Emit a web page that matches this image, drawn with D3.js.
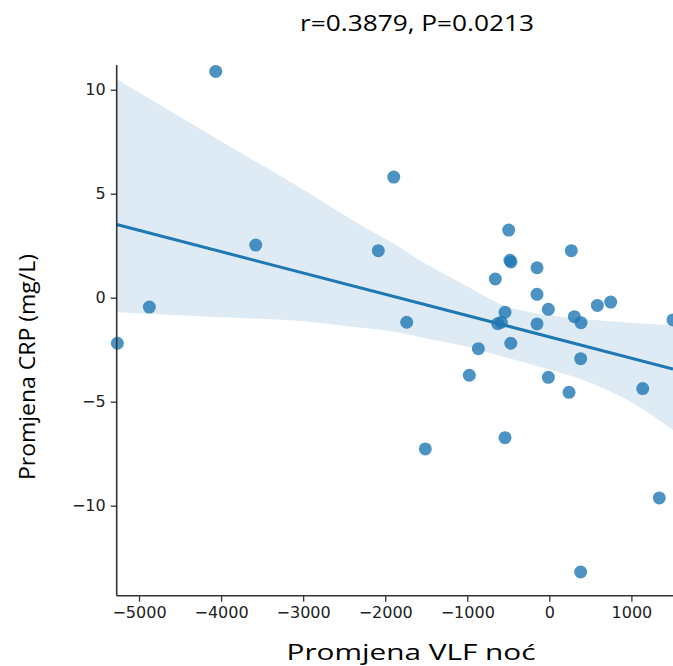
<!DOCTYPE html>
<html>
<head>
<meta charset="utf-8">
<script src="https://cdn.jsdelivr.net/npm/d3@7"></script>
<style>
  html, body { margin: 0; padding: 0; background: #fff; }
  svg { display: block; }
</style>
</head>
<body>
<svg id="chart" width="673" height="666"></svg>
<script>
// ---- data ----
const vlfChange = [-5264, -4874, -4065, -3578, -2084, -1896, -1738, -1511, -975, -865,
  -658, -629, -585, -540, -540, -495, -480, -468, -470, -150,
  -150, -150, -12, -12, 240, 268, 305, 382, 382, 386,
  585, 748, 1138, 1340, 1507];
const crpChange = [-2.19, -0.45, 10.88, 2.53, 2.26, 5.80, -1.18, -7.27, -3.73, -2.45,
  0.90, -1.25, -1.18, -0.70, -6.73, 3.25, 1.80, 1.72, -2.19, 1.44,
  0.16, -1.26, -0.56, -3.83, -4.55, 2.26, -0.91, -2.93, -13.19, -1.20,
  -0.37, -0.21, -4.37, -9.63, -1.07];
// bootstrap confidence band
const ciX     = [-5272, -4000, -3000, -2400, -1800, -1600, -1000, -600, -100, 400, 1000, 1507];
const ciUpper = [10.5, 7.52, 5.2, 3.73, 2.37, 1.85, 0.55, -0.3, -0.8, -1.02, -1.2, -1.33];
const ciLower = [-0.70, -0.94, -1.13, -1.40, -1.70, -1.88, -2.36, -2.80, -3.34, -3.94, -5.03, -6.36];
const xTicks = [-5000, -4000, -3000, -2000, -1000, 0, 1000];
const yTicks = [-10, -5, 0, 5, 10];
const titleText = "r=0.3879, P=0.0213";
const xLabel = "Promjena VLF noć";
const yLabel = "Promjena CRP (mg/L)";

(function () {
// ---- layout ----
const svg = d3.select("#chart");
const mLeft = 116.7, mRight = 673, mTop = 65, mBottom = 595.7;
const x = d3.scaleLinear().domain([-5272, 1507]).range([mLeft, mRight]);
const y = d3.scaleLinear().domain([-14.33, 11.19]).range([mBottom, mTop]);
const blue = "#1f77b4";
const tickFont = "'DejaVu Sans', sans-serif";

const data = vlfChange.map((v, i) => ({x: v, y: crpChange[i]}));

// regression by least squares
const mx = d3.mean(vlfChange), my = d3.mean(crpChange);
let sxy = 0, sxx = 0;
data.forEach(d => { sxy += (d.x - mx) * (d.y - my); sxx += (d.x - mx) ** 2; });
const slope = sxy / sxx, intercept = my - slope * mx;
const xExt = x.domain();

// points
svg.append("g").selectAll("circle").data(data).join("circle")
  .attr("cx", d => x(d.x)).attr("cy", d => y(d.y)).attr("r", 6.5)
  .attr("fill", blue).attr("fill-opacity", 0.8);

// confidence band
const band = ciX.map((v, i) => ({x: v, lo: ciLower[i], hi: ciUpper[i]}));
svg.append("path").datum(band)
  .attr("d", d3.area().x(d => x(d.x)).y0(d => y(d.lo)).y1(d => y(d.hi)).curve(d3.curveMonotoneX))
  .attr("fill", blue).attr("fill-opacity", 0.15);

// regression line
svg.append("path").datum(xExt.map(v => ({x: v, y: intercept + slope * v})))
  .attr("d", d3.line().x(d => x(d.x)).y(d => y(d.y)))
  .attr("stroke", blue).attr("stroke-width", 3).attr("fill", "none");

// axes
const fmt = d => String(d).replace("-", "\u2212");
const xAxis = svg.append("g").attr("transform", `translate(0,${mBottom})`)
  .call(d3.axisBottom(x).tickValues(xTicks).tickSize(6).tickPadding(5).tickFormat(fmt));
const yAxis = svg.append("g").attr("transform", `translate(${mLeft},0)`)
  .call(d3.axisLeft(y).tickValues(yTicks).tickSize(6).tickPadding(5).tickFormat(fmt));
[xAxis, yAxis].forEach(g => {
  g.select(".domain").attr("stroke", "#333").attr("stroke-width", 1.6);
  g.selectAll(".tick line").attr("stroke", "#333").attr("stroke-width", 1.3);
  g.selectAll(".tick text").attr("fill", "#222").style("font-family", tickFont).style("font-size", "16px");
});
xAxis.select(".domain").attr("d", `M${mLeft},0H${mRight}`);
yAxis.select(".domain").attr("d", `M0,${mBottom}V${mTop}`);

// title and labels
const labelFont = "'Open Sans', 'Noto Sans', sans-serif";
svg.append("text").attr("x", 417).attr("y", 31).attr("text-anchor", "middle")
  .style("font-family", labelFont).style("font-size", "21px").style("font-weight", 400).attr("fill", "#000")
  .attr("textLength", 234).attr("lengthAdjust", "spacingAndGlyphs")
  .text(titleText);
svg.append("text").attr("x", 411).attr("y", 660).attr("text-anchor", "middle")
  .style("font-family", labelFont).style("font-size", "21px").style("font-weight", 400).attr("fill", "#000")
  .attr("textLength", 249).attr("lengthAdjust", "spacingAndGlyphs")
  .text(xLabel);
svg.append("text").attr("transform", "translate(35,367) rotate(-90)").attr("text-anchor", "middle")
  .style("font-family", labelFont).style("font-size", "21px").style("font-weight", 400).attr("fill", "#000")
  .attr("textLength", 226).attr("lengthAdjust", "spacingAndGlyphs")
  .text(yLabel);
})();
</script>
</body>
</html>
